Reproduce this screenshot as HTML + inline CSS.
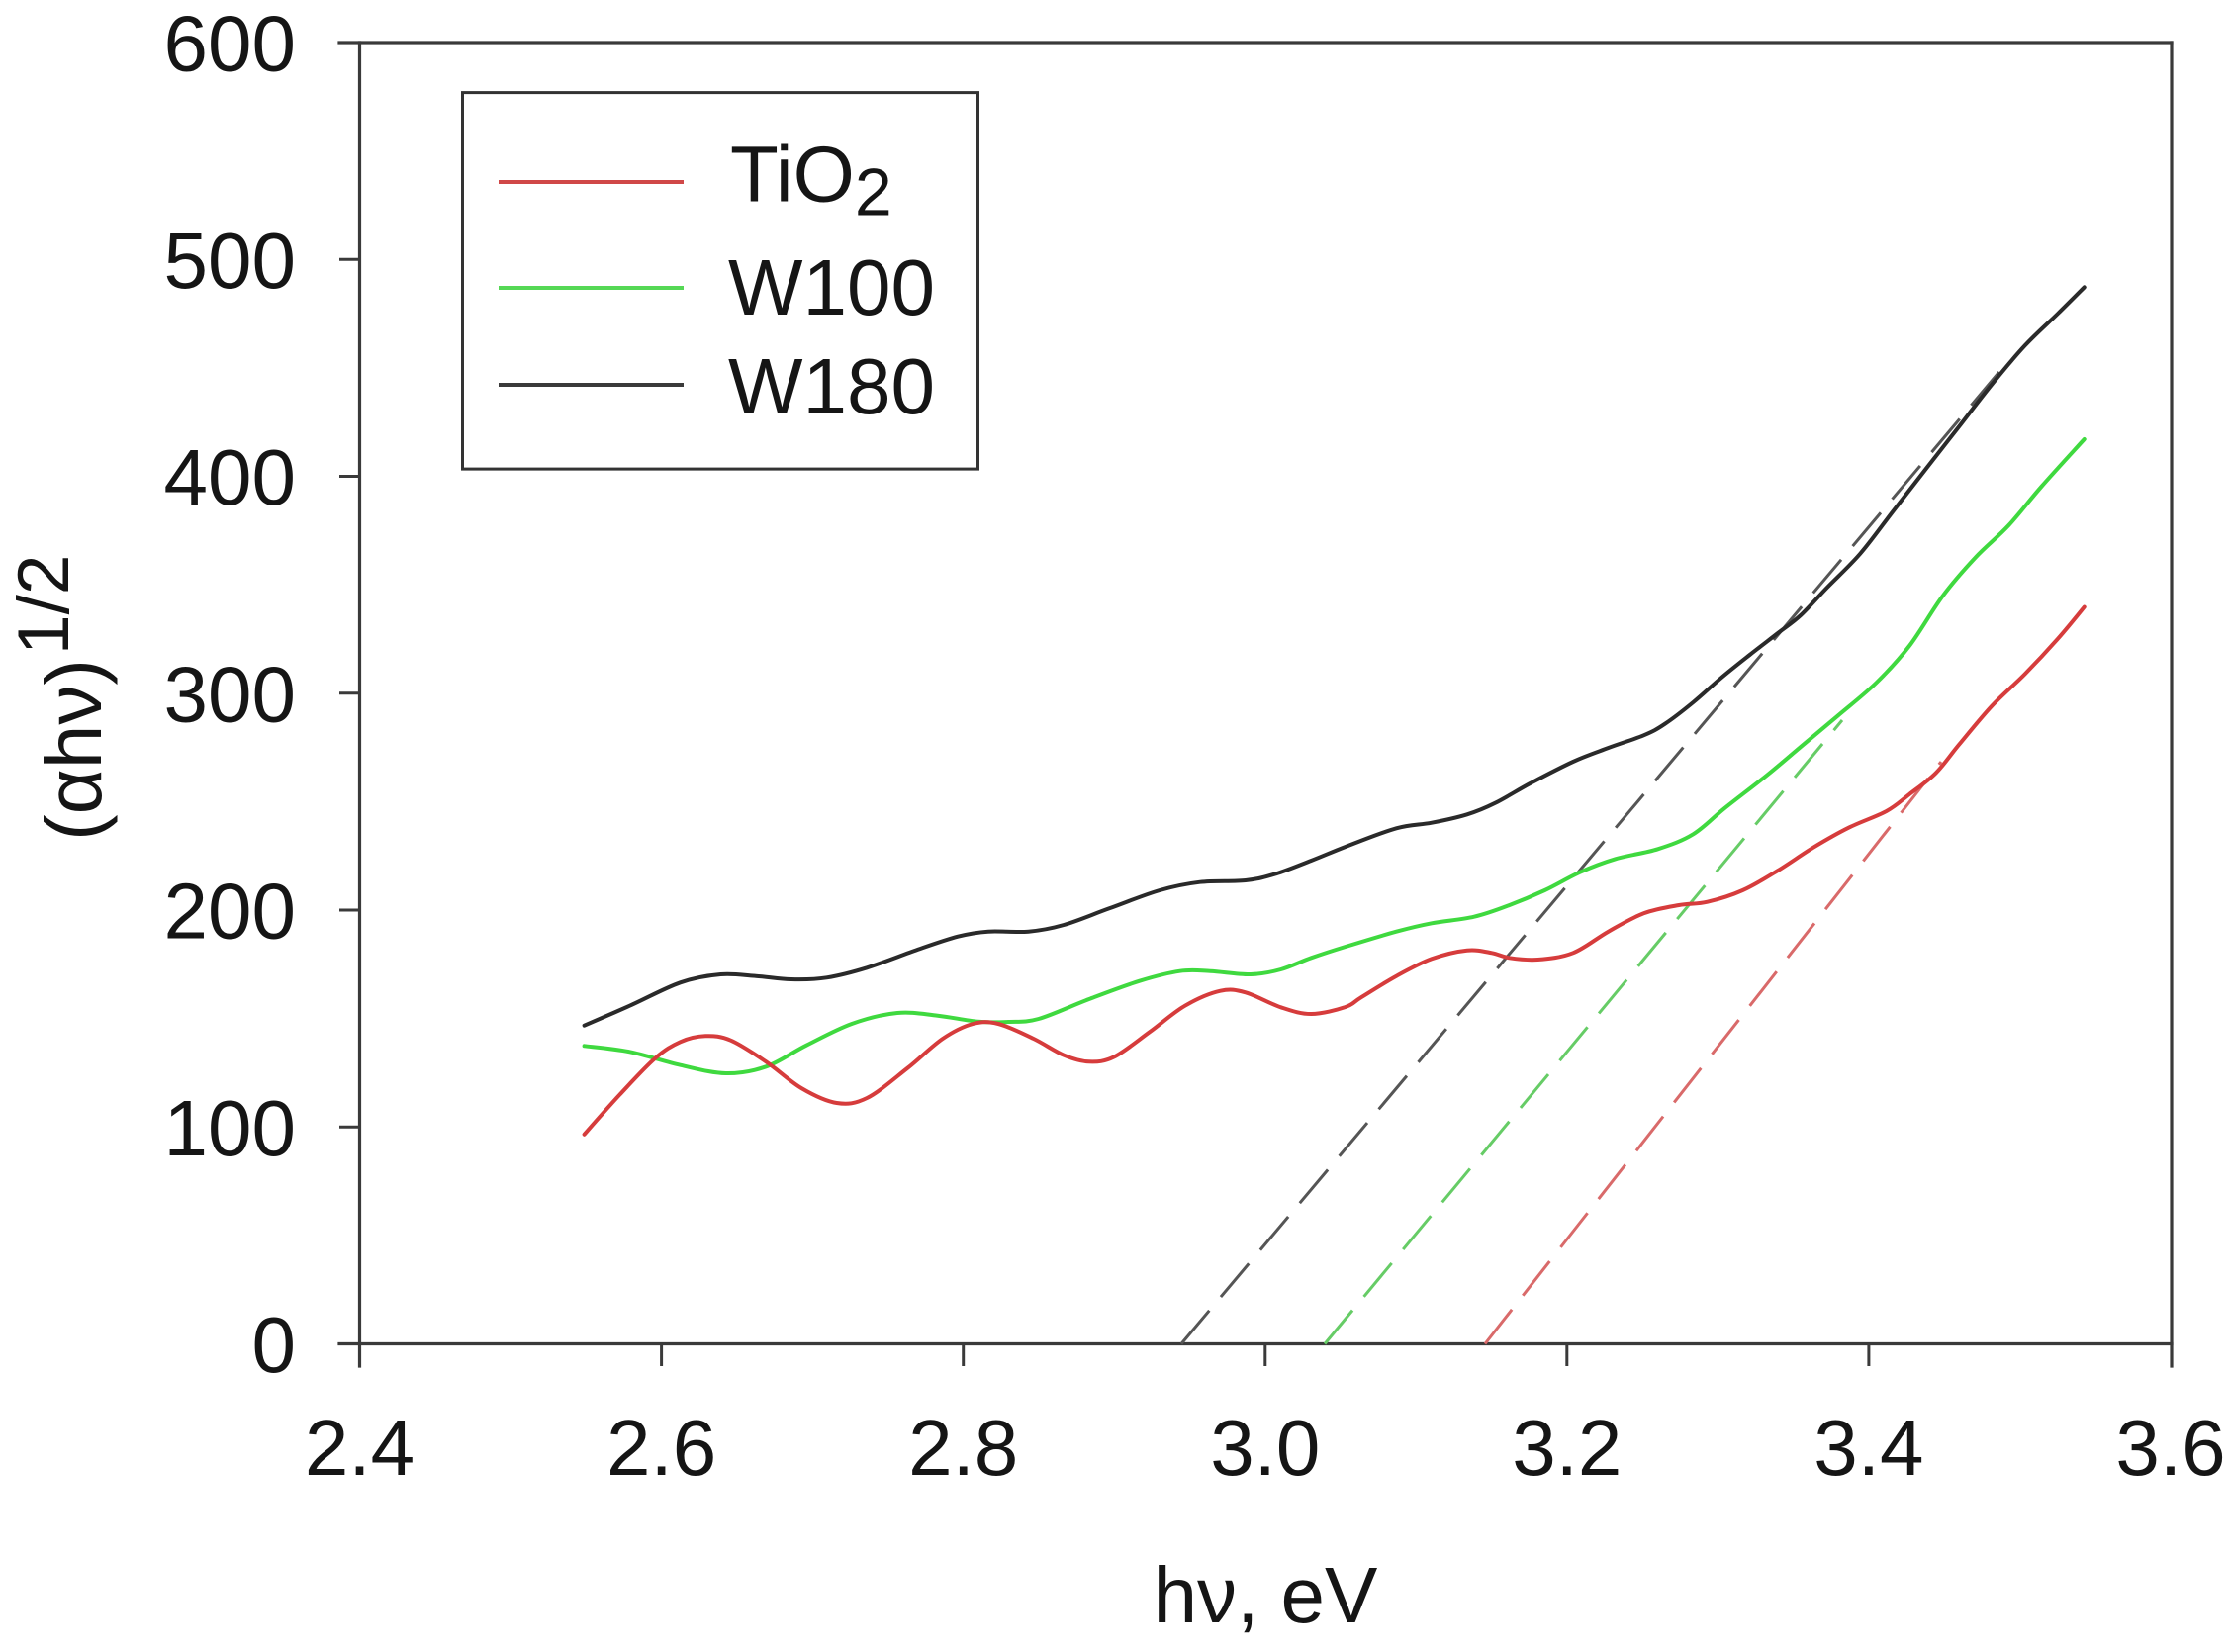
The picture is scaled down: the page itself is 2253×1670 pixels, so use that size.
<!DOCTYPE html>
<html>
<head>
<meta charset="utf-8">
<style>
  html, body { margin: 0; padding: 0; background: #ffffff; }
  svg { display: block; }
  text { font-family: "Liberation Sans", Arial, sans-serif; fill: #151515; }
</style>
</head>
<body>
<svg id="chart" width="2253" height="1670" viewBox="0 0 2253 1670" xmlns="http://www.w3.org/2000/svg">
  <rect x="0" y="0" width="2253" height="1670" fill="#ffffff"/>

  <!-- Frame -->
  <g stroke="#3a3a3a" stroke-width="3.2" fill="none" stroke-linecap="square">
    <line x1="343" y1="43" x2="2195" y2="43"/>
    <line x1="343" y1="1358.5" x2="2195" y2="1358.5"/>
    <line x1="363.5" y1="43" x2="363.5" y2="1381"/>
    <line x1="2195" y1="43" x2="2195" y2="1381"/>
  </g>

  <!-- Y ticks -->
  <g stroke="#3a3a3a" stroke-width="3">
    <line x1="343" y1="262.3" x2="363.5" y2="262.3"/>
    <line x1="343" y1="481.5" x2="363.5" y2="481.5"/>
    <line x1="343" y1="700.8" x2="363.5" y2="700.8"/>
    <line x1="343" y1="920" x2="363.5" y2="920"/>
    <line x1="343" y1="1139.3" x2="363.5" y2="1139.3"/>
  </g>
  <!-- X ticks -->
  <g stroke="#3a3a3a" stroke-width="3">
    <line x1="668.6" y1="1358.5" x2="668.6" y2="1381"/>
    <line x1="973.7" y1="1358.5" x2="973.7" y2="1381"/>
    <line x1="1278.8" y1="1358.5" x2="1278.8" y2="1381"/>
    <line x1="1583.8" y1="1358.5" x2="1583.8" y2="1381"/>
    <line x1="1888.9" y1="1358.5" x2="1888.9" y2="1381"/>
  </g>

  <!-- Y tick labels -->
  <g font-size="80" text-anchor="end">
    <text x="299" y="71.5">600</text>
    <text x="299" y="290.8">500</text>
    <text x="299" y="510">400</text>
    <text x="299" y="729.3">300</text>
    <text x="299" y="948.5">200</text>
    <text x="299" y="1167.8">100</text>
    <text x="299" y="1387">0</text>
  </g>

  <!-- X tick labels -->
  <g font-size="80" text-anchor="middle">
    <text x="363.5" y="1491">2.4</text>
    <text x="668.6" y="1491">2.6</text>
    <text x="973.7" y="1491">2.8</text>
    <text x="1278.8" y="1491">3.0</text>
    <text x="1583.8" y="1491">3.2</text>
    <text x="1888.9" y="1491">3.4</text>
    <text x="2194" y="1491">3.6</text>
  </g>

  <!-- Axis titles -->
  <text x="1279" y="1640" font-size="80" text-anchor="middle">hν, eV</text>
  <text transform="translate(102,850) rotate(-90)" font-size="80">(αhν)<tspan font-size="73" dy="-33" dx="4">1/2</tspan></text>

  <!-- Dashed extrapolation lines -->
  <g stroke-width="3" stroke-dasharray="44 18" fill="none">
    <line x1="1194" y1="1358.5" x2="2030" y2="365" stroke="#555555"/>
    <line x1="1339" y1="1358.5" x2="1862" y2="728" stroke="#66cc66"/>
    <line x1="1501" y1="1358.5" x2="1962" y2="770" stroke="#d96a6a"/>
  </g>

  <!-- Curves -->
  <g fill="none" stroke-width="4" stroke-linejoin="round" stroke-linecap="round">
    <polyline class="smooth" stroke="#2a2a2a" points="590.6,1036.7 636.5,1016.7 687.6,993.3 728.4,985 764,986.7 799.8,990 835.5,988.3 876.3,978.3 927.3,960 968.2,946.7 998.8,941.7 1039.6,941.7 1075.3,935 1121.2,918.3 1172.2,900 1213,891.7 1259,890 1289.6,883.3 1325.3,870 1360,856 1411.4,837.3 1447.1,831.7 1482.9,823.3 1511.4,811.7 1547.1,791.7 1590,770 1625.7,756 1661.4,743.3 1682.9,731.7 1711.4,710 1740,685 1768.6,662 1797,640 1820,622 1846.7,594 1880,560 1913.3,517 1946.7,474 1980,431.4 2013.3,388.6 2046.7,349.3 2080,317 2106.7,290.4"/>
    <polyline class="smooth" stroke="#3fd93f" points="590.6,1057.3 636.5,1063.3 687.6,1076.7 733.5,1085 774.3,1078.3 815.1,1056.7 861,1035 907,1024 947.8,1026.7 988.6,1032.7 1019,1033 1049.8,1030 1100.8,1010 1151.8,991.7 1192.7,981.7 1223.3,981.7 1264,985 1294.7,980 1325.3,968.3 1360,957 1411.4,941.7 1447.1,933.3 1490,926.7 1525.7,915 1561.4,900 1597.1,881.7 1632.9,868.3 1675.7,858.3 1711.4,843.3 1743.6,816.7 1786.4,783.3 1822.1,753.3 1857.9,723.3 1896.7,690 1930,652.9 1963.3,602.9 1996.7,563.6 2030,531.4 2063.3,492 2106.7,444"/>
    <polyline class="smooth" stroke="#d63c3c" points="590.6,1146.7 626.3,1106.7 662,1070 687.6,1053.3 713,1047.3 738.6,1051.7 774.3,1073.3 810,1100 845.7,1115 876.3,1110 917,1080 952.9,1050 983.5,1035 1009,1035 1044.7,1050 1075.3,1066.7 1100.8,1073.3 1126.3,1068.3 1162,1043.3 1197.8,1016.7 1233.5,1001.7 1259,1003.3 1294.7,1018.3 1325.3,1025 1360,1018 1375.7,1008.3 1411.4,986.7 1447.1,969.3 1482.9,960.7 1507.9,963.3 1525.7,968.3 1554.3,970 1590,963.3 1625.7,941.7 1661.4,923.3 1697.1,915 1725.7,911.7 1761.4,900 1797.1,880 1832.9,856.7 1868.6,836.7 1906.7,820 1930,802.9 1956.7,781.4 1980,752.9 2013.3,713.6 2046.7,681.4 2080,645.7 2106.7,613.6"/>
  </g>

  <!-- Legend -->
  <rect x="467.5" y="93.6" width="521" height="380.5" fill="#ffffff" stroke="#333333" stroke-width="3"/>
  <line x1="504" y1="184" x2="691" y2="184" stroke="#d04848" stroke-width="4"/>
  <line x1="504" y1="291" x2="691" y2="291" stroke="#55d855" stroke-width="4"/>
  <line x1="504" y1="389" x2="691" y2="389" stroke="#3a3a3a" stroke-width="4"/>
  <text x="738" y="203.6" font-size="80">TiO<tspan font-size="68" dy="14">2</tspan></text>
  <text x="736" y="318" font-size="80">W100</text>
  <text x="736" y="418" font-size="80">W180</text>
</svg>
<script>
(function(){
  var NS = 'http://www.w3.org/2000/svg';
  var pls = document.querySelectorAll('polyline.smooth');
  for (var k = 0; k < pls.length; k++) {
    var pl = pls[k];
    var pts = pl.getAttribute('points').trim().split(/\s+/).map(function(s){
      var a = s.split(','); return [parseFloat(a[0]), parseFloat(a[1])];
    });
    var d = 'M' + pts[0][0] + ',' + pts[0][1];
    for (var i = 0; i < pts.length - 1; i++) {
      var p0 = pts[i-1] || pts[i], p1 = pts[i], p2 = pts[i+1], p3 = pts[i+2] || pts[i+1];
      var c1x = p1[0] + (p2[0] - p0[0]) / 6, c1y = p1[1] + (p2[1] - p0[1]) / 6;
      var c2x = p2[0] - (p3[0] - p1[0]) / 6, c2y = p2[1] - (p3[1] - p1[1]) / 6;
      d += ' C' + c1x.toFixed(1) + ',' + c1y.toFixed(1) + ' ' + c2x.toFixed(1) + ',' + c2y.toFixed(1) + ' ' + p2[0] + ',' + p2[1];
    }
    var path = document.createElementNS(NS, 'path');
    path.setAttribute('d', d);
    path.setAttribute('stroke', pl.getAttribute('stroke'));
    path.setAttribute('fill', 'none');
    pl.parentNode.replaceChild(path, pl);
  }
})();
</script>
</body>
</html>
